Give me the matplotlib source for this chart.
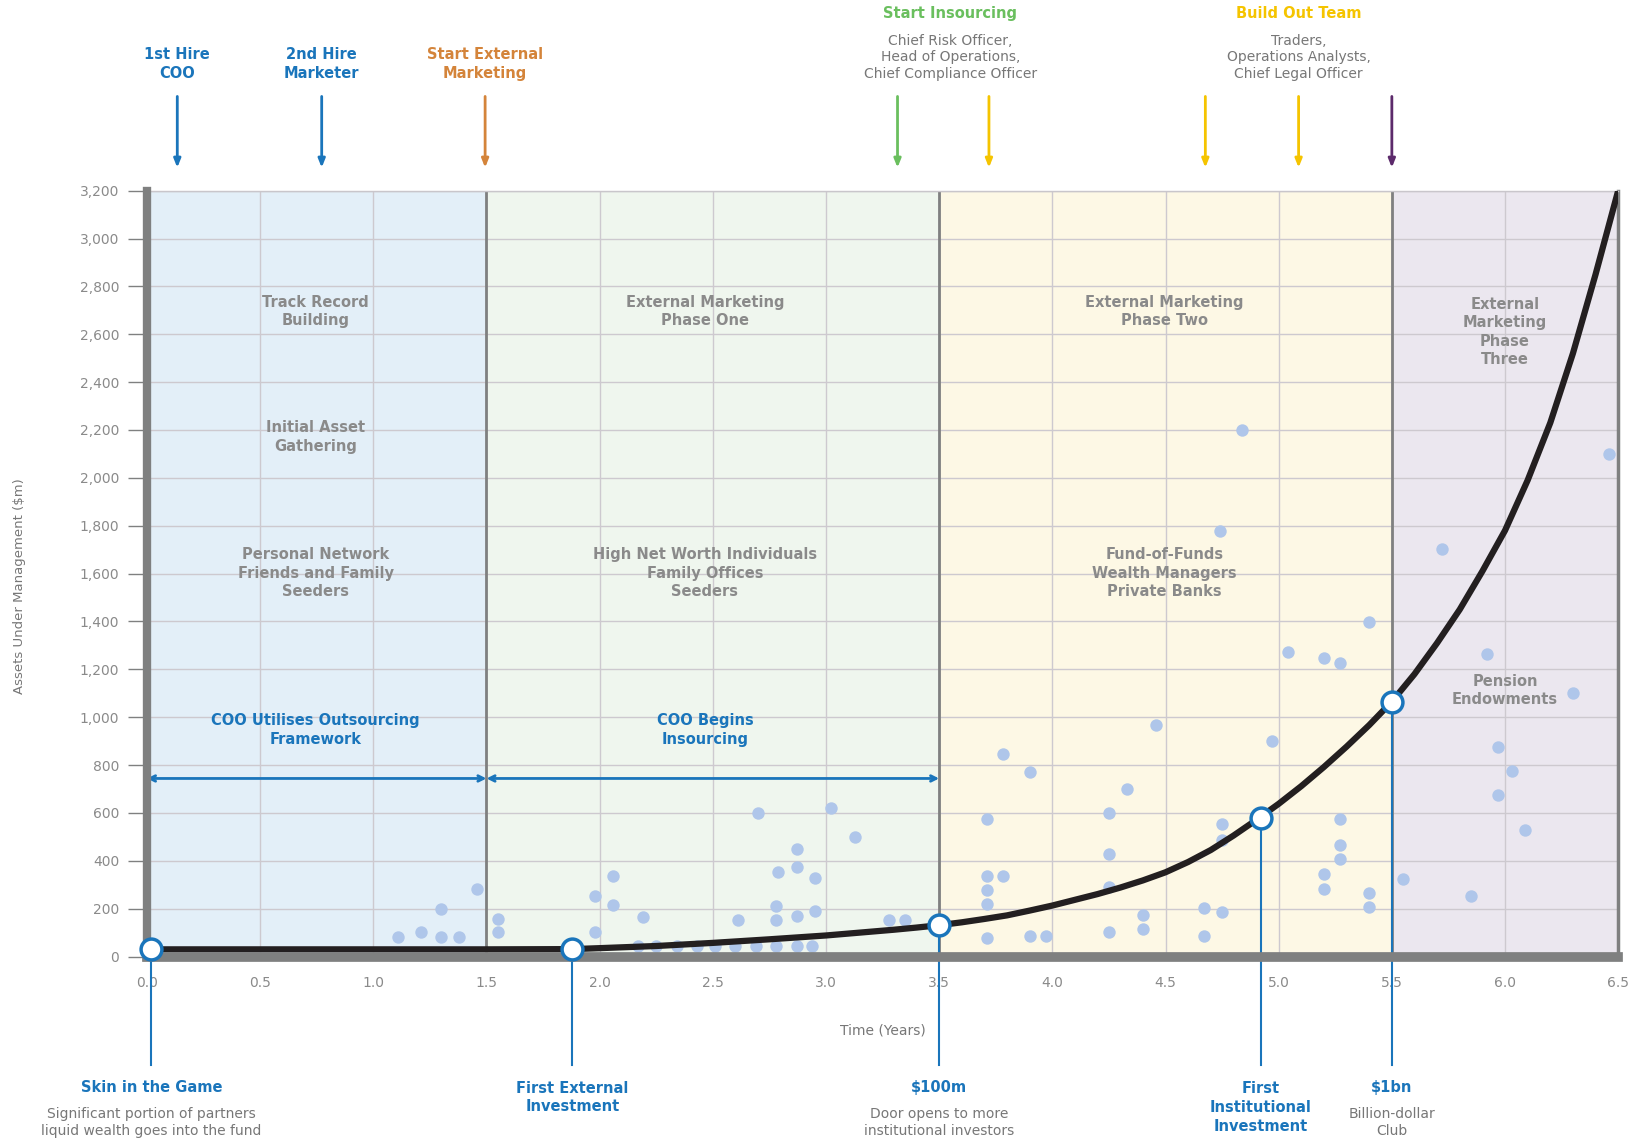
"""Hedge fund growth path: AUM over time with milestones and investor phases."""

import matplotlib.pyplot as plt

# ---- data ----
curve_x = [0.0, 0.5, 1.0, 1.5, 1.88, 2.0, 2.25, 2.5, 2.75, 3.0,
           3.1, 3.2, 3.3, 3.4, 3.5, 3.6, 3.7, 3.8, 3.9, 4.0,
           4.1, 4.2, 4.3, 4.4, 4.5, 4.6, 4.7, 4.8, 4.9, 5.0,
           5.1, 5.2, 5.3, 5.4, 5.5, 5.6, 5.7, 5.8, 5.9, 6.0,
           6.1, 6.2, 6.3, 6.4, 6.5]
curve_y = [30, 30, 30, 30, 31, 35, 44, 57, 72, 88,
           96, 104, 112, 121, 131, 143, 157, 172, 192, 213,
           237, 261, 288, 318, 352, 395, 445, 505, 570, 638,
           712, 792, 877, 967, 1065, 1180, 1310, 1450, 1610, 1780,
           1990, 2230, 2520, 2850, 3200]

milestone_x = [0.02, 1.88, 3.5, 4.92, 5.5]
milestone_y = [30, 31, 131, 580, 1065]

scatter_x = [1.11, 1.21, 1.30, 1.30, 1.38, 1.46,
             1.55, 1.55, 1.98, 2.06, 2.06, 1.98, 2.19,
             2.17, 2.25, 2.34, 2.43, 2.51, 2.60, 2.69, 2.78, 2.87, 2.94,
             2.70, 3.02, 3.13, 2.87, 2.87, 2.79, 2.95, 2.78, 2.78, 2.87, 2.95,
             2.61, 3.28, 3.35,
             3.78, 3.90, 3.71, 4.25, 4.33, 4.25, 3.71, 3.78, 3.71, 3.71, 4.25,
             3.71, 3.90, 3.97, 4.25, 4.40, 4.40, 4.67, 4.75, 4.67, 4.75, 4.75,
             4.46, 4.84, 4.74, 4.97, 5.04, 5.20, 5.27, 5.40, 5.27, 5.27, 5.27,
             5.20, 5.20, 5.40, 5.40,
             5.55, 5.72, 5.85, 5.92, 5.97, 6.03, 5.97, 6.09, 6.30, 6.46]
scatter_y = [83, 103, 200, 83, 83, 281,
             157, 103, 255, 338, 214, 103, 164,
             45, 45, 45, 45, 45, 45, 45, 45, 45, 45,
             600, 619, 499, 451, 372, 352, 327, 210, 153, 170, 192,
             153, 153, 153,
             848, 772, 575, 600, 699, 430, 337, 337, 276, 221, 292,
             79, 84, 84, 103, 172, 117, 203, 186, 84, 554, 486,
             968, 2200, 1778, 900, 1271, 1248, 1225, 1397, 575, 467, 407,
             343, 283, 265, 207,
             325, 1703, 253, 1263, 876, 776, 676, 527, 1100, 2100]

phase_edges = [0.0, 1.5, 3.5, 5.5, 6.5]
phase_colors = ["#e3eff8", "#eff6ee", "#fdf8e5", "#ebe7ef"]

y_ticks = list(range(0, 3201, 200))
x_ticks = [0.0, 0.5, 1.0, 1.5, 2.0, 2.5, 3.0, 3.5, 4.0, 4.5, 5.0, 5.5, 6.0, 6.5]

top_arrow_x = [0.134, 0.772, 1.494, 3.316, 3.72, 4.676, 5.088, 5.5]
top_arrow_colors = ["#1a75bb", "#1a75bb", "#d4843a", "#6abf5e",
                    "#f5c400", "#f5c400", "#f5c400", "#5c2a6b"]

BLUE = "#1a75bb"
GREY = "#8a8a8a"
AXGREY = "#7f8080"


def main() -> None:
    fig = plt.figure(figsize=(16.42, 11.45), dpi=100)
    ax = fig.add_axes([0.0895, 0.1646, 0.896, 0.6689])
    trans = ax.get_xaxis_transform()

    # phase backgrounds
    for i, c in enumerate(phase_colors):
        ax.axvspan(phase_edges[i], phase_edges[i + 1], color=c, zorder=0, lw=0)

    ax.set_xlim(0, 6.5)
    ax.set_ylim(0, 3200)
    ax.set_xticks(x_ticks)
    ax.set_xticklabels([f"{v:.1f}" for v in x_ticks])
    ax.set_yticks(y_ticks)
    ax.set_yticklabels([f"{v:,}" for v in y_ticks])
    ax.grid(True, color="#cdc9cf", lw=1, zorder=1)
    ax.tick_params(axis="y", length=14, width=1, color=AXGREY, pad=6,
                   labelsize=10, labelcolor=GREY)
    ax.tick_params(axis="x", length=0, pad=14, labelsize=10, labelcolor=GREY)

    for s in ["left", "bottom"]:
        ax.spines[s].set_color(AXGREY)
        ax.spines[s].set_zorder(6)
    ax.spines["left"].set_linewidth(6)
    ax.spines["bottom"].set_linewidth(7)
    ax.spines["right"].set_color(AXGREY)
    ax.spines["right"].set_linewidth(2.5)
    ax.spines["top"].set_color("#c9c6cb")
    ax.spines["top"].set_linewidth(1)

    # phase separators
    for x in phase_edges[1:4]:
        ax.axvline(x, color=AXGREY, lw=2, zorder=2)

    ax.scatter(scatter_x, scatter_y, s=80, color="#afc6ea", lw=0, zorder=3)
    ax.plot(curve_x, curve_y, color="#231f20", lw=4.5, zorder=4,
            solid_capstyle="round", solid_joinstyle="round")

    # milestone drop lines + markers
    for mx, my in zip(milestone_x, milestone_y):
        ax.plot([mx, mx], [my, -0.142 * 3200], color=BLUE, lw=1.5,
                clip_on=False, zorder=5)
    ax.plot(milestone_x, milestone_y, "o", ms=15, mfc="white", mec=BLUE,
            mew=2.5, zorder=7, clip_on=False)

    # double-headed arrows
    for a, b in [(0.0, 1.5), (1.5, 3.5)]:
        ax.annotate("", xy=(b, 744), xytext=(a, 744),
                    arrowprops=dict(arrowstyle="<->", color=BLUE, lw=2,
                                    shrinkA=0, shrinkB=0), zorder=5)

    # region texts
    bold_grey = dict(color=GREY, fontsize=10.5, fontweight="bold",
                     ha="center", va="center", linespacing=1.3, zorder=5)
    ax.text(0.745, 2695, "Track Record\nBuilding", **bold_grey)
    ax.text(0.745, 2170, "Initial Asset\nGathering", **bold_grey)
    ax.text(0.745, 1602, "Personal Network\nFriends and Family\nSeeders", **bold_grey)
    ax.text(2.465, 2695, "External Marketing\nPhase One", **bold_grey)
    ax.text(2.465, 1602, "High Net Worth Individuals\nFamily Offices\nSeeders",
            **bold_grey)
    ax.text(4.496, 2695, "External Marketing\nPhase Two", **bold_grey)
    ax.text(4.496, 1602, "Fund-of-Funds\nWealth Managers\nPrivate Banks", **bold_grey)
    ax.text(6.0, 2609, "External\nMarketing\nPhase\nThree", **bold_grey)
    ax.text(6.0, 1112, "Pension\nEndowments", **bold_grey)

    bold_blue = dict(color=BLUE, fontsize=10.5, fontweight="bold",
                     ha="center", va="center", linespacing=1.3, zorder=5)
    ax.text(0.745, 946, "COO Utilises Outsourcing\nFramework", **bold_blue)
    ax.text(2.465, 946, "COO Begins\nInsourcing", **bold_blue)

    # top arrows and labels
    for x, c in zip(top_arrow_x, top_arrow_colors):
        ax.annotate("", xy=(x, 1.030), xytext=(x, 1.123), xycoords=trans,
                    textcoords=trans,
                    arrowprops=dict(arrowstyle="-|>,head_length=0.5,head_width=0.2",
                                    color=c, lw=2, shrinkA=0, shrinkB=0))

    top_bold = dict(fontsize=10.5, fontweight="bold", ha="center", va="center",
                    linespacing=1.3, transform=trans)
    ax.text(0.134, 1.165, "1st Hire\nCOO", color=BLUE, **top_bold)
    ax.text(0.772, 1.165, "2nd Hire\nMarketer", color=BLUE, **top_bold)
    ax.text(1.494, 1.165, "Start External\nMarketing", color="#d4843a", **top_bold)
    ax.text(3.55, 1.231, "Start Insourcing", color="#6abf5e", **top_bold)
    ax.text(5.088, 1.231, "Build Out Team", color="#f5c400", **top_bold)

    top_grey = dict(fontsize=10, color="#777777", ha="center", va="center",
                    linespacing=1.25, transform=trans)
    ax.text(3.55, 1.174, "Chief Risk Officer,\nHead of Operations,\nChief Compliance Officer",
            **top_grey)
    ax.text(5.088, 1.174, "Traders,\nOperations Analysts,\nChief Legal Officer",
            **top_grey)

    # bottom milestone labels
    bot_bold = dict(fontsize=10.5, fontweight="bold", color=BLUE, ha="center",
                    va="center", linespacing=1.3, transform=trans)
    bot_grey = dict(fontsize=10, color="#777777", ha="center", va="center",
                    linespacing=1.25, transform=trans)
    ax.text(0.02, -0.171, "Skin in the Game", **bot_bold)
    ax.text(0.02, -0.217, "Significant portion of partners\nliquid wealth goes into the fund",
            **bot_grey)
    ax.text(1.88, -0.184, "First External\nInvestment", **bot_bold)
    ax.text(3.5, -0.171, "$100m", **bot_bold)
    ax.text(3.5, -0.217, "Door opens to more\ninstitutional investors", **bot_grey)
    ax.text(4.92, -0.197, "First\nInstitutional\nInvestment", **bot_bold)
    ax.text(5.5, -0.171, "$1bn", **bot_bold)
    ax.text(5.5, -0.217, "Billion-dollar\nClub", **bot_grey)

    ax.text(0.5, -0.096, "Time (Years)", transform=ax.transAxes, ha="center",
            va="center", fontsize=10, color="#777777")
    ax.text(-0.0868, 0.483, "Assets Under Management ($m)", transform=ax.transAxes,
            rotation=90, ha="center", va="center", fontsize=9.5, color="#777777")

    fig.savefig("out.png", dpi=100)


if __name__ == "__main__":
    main()
